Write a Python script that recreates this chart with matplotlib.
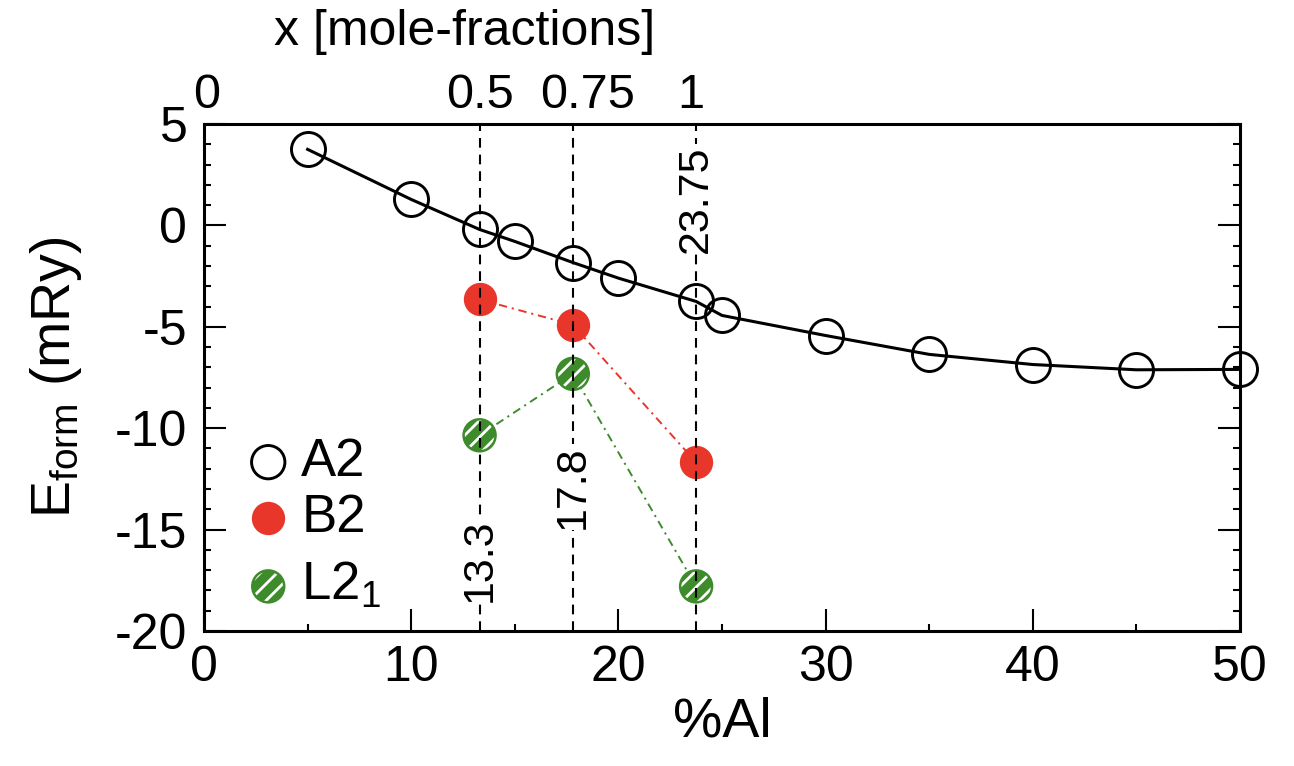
import matplotlib
matplotlib.use("Agg")
import matplotlib.pyplot as plt
from matplotlib.ticker import MultipleLocator

plt.rcParams['font.family'] = ['Liberation Sans', 'DejaVu Sans']
plt.rcParams['mathtext.fontset'] = 'custom'
plt.rcParams['mathtext.rm'] = 'Liberation Sans'
plt.rcParams['mathtext.it'] = 'Liberation Sans:italic'
plt.rcParams['mathtext.bf'] = 'Liberation Sans:bold'
plt.rcParams['axes.unicode_minus'] = False
plt.rcParams['lines.scale_dashes'] = False
plt.rcParams['hatch.linewidth'] = 2.0
plt.rcParams['hatch.color'] = 'white'

# ---- data ----
a2_x = [5, 10, 13.3, 15, 17.8, 20, 23.75, 25, 30, 35, 40, 45, 50]
a2_y = [3.75, 1.28, -0.2, -0.79, -1.83, -2.6, -3.75, -4.44, -5.43, -6.36, -6.86, -7.12, -7.1]
ord_x = [13.3, 17.8, 23.75]
b2_y = [-3.65, -4.9, -11.68]
l21_y = [-10.35, -7.32, -17.8]
vline_x = [13.3, 17.8, 23.75]
vline_labels = ['13.3', '17.8', '23.75']
top_tick_labels = ['0', '0.5', '0.75', '1']

RED = '#e8362a'
GREEN = '#3e8b2c'

fig = plt.figure(figsize=(12.94, 7.66), dpi=100)
ax = fig.add_axes([204/1294, 1-631/766, (1240-204)/1294, (631-124)/766])

ax.set_xlim(0, 50)
ax.set_ylim(-20, 5)

# A2
ax.plot(a2_x, a2_y, color='black', lw=2.2, marker='o', ms=24.5, mfc='none',
        mec='black', mew=2.1, zorder=3, clip_on=False)

# B2
dashdot = (0, (6, 3.5, 1.5, 3.5))
ax.plot(ord_x, b2_y, color=RED, lw=1.4, ls=dashdot, zorder=2)
ax.scatter(ord_x, b2_y, s=24**2, color=RED, linewidths=0, zorder=3)

# L2_1
ax.plot(ord_x, l21_y, color=GREEN, lw=1.4, ls=dashdot, zorder=2)
ax.scatter(ord_x, l21_y, s=23**2, facecolor=GREEN, edgecolor='white',
           hatch='//', linewidths=0, zorder=3)
ax.scatter(ord_x, l21_y, s=23**2, facecolor='none', edgecolor=GREEN,
           linewidths=1.8, zorder=3.5)

# vertical dashed lines
for xv in vline_x:
    ax.axvline(xv, color='black', lw=1.5, ls=(0, (7, 5)), zorder=4)

# rotated labels with white background
label_y = [-16.5, -12.9, 1.3]
for xv, lab, yv in zip(vline_x, vline_labels, label_y):
    ax.text(xv, yv, lab, rotation=90, ha='center', va='center', fontsize=31,
            zorder=5, bbox=dict(facecolor='white', edgecolor='none', pad=1))

# axes style
for sp in ax.spines.values():
    sp.set_linewidth(2.2)
ax.xaxis.set_major_locator(MultipleLocator(10))
ax.xaxis.set_minor_locator(MultipleLocator(5))
ax.yaxis.set_major_locator(MultipleLocator(5))
ax.yaxis.set_minor_locator(MultipleLocator(1))
ax.tick_params(which='both', direction='in', top=True, right=True, width=1.5)
ax.tick_params(which='major', length=16, labelsize=36, pad=10)
ax.tick_params(which='minor', length=5)
ax.tick_params(axis='y', which='major', pad=12)

ax.set_xlabel('%Al', fontsize=40, labelpad=4)
ax.set_ylabel(r'E$_{\mathrm{form}}$ (mRy)', fontsize=40, labelpad=22)

# top axis labels
top_label_pos = [0.15, 13.3, 18.5, 23.5]
tw = ax.twiny()
tw.set_xlim(ax.get_xlim())
tw.set_xticks(top_label_pos)
tw.set_xticklabels(top_tick_labels)
tw.tick_params(axis='x', length=0, labelsize=35, pad=4)
tw.set_xlabel('x [mole-fractions]', fontsize=36, labelpad=6)
tw.xaxis.set_label_coords(0.252, 1.155)
for sp in tw.spines.values():
    sp.set_visible(False)

# legend (manual)
lx, tx = 0.062, 0.094
ax.scatter([lx], [0.333], s=24**2, facecolor='none', edgecolor='black',
           linewidths=2.1, transform=ax.transAxes, zorder=6, clip_on=False)
ax.text(tx, 0.333, 'A2', fontsize=38, va='center', ha='left', transform=ax.transAxes)
ax.scatter([lx], [0.223], s=24**2, color=RED, linewidths=0,
           transform=ax.transAxes, zorder=6)
ax.text(tx, 0.223, 'B2', fontsize=38, va='center', ha='left', transform=ax.transAxes)
ax.scatter([lx], [0.088], s=23**2, facecolor=GREEN, edgecolor='white', hatch='//',
           linewidths=0, transform=ax.transAxes, zorder=6)
ax.scatter([lx], [0.088], s=23**2, facecolor='none', edgecolor=GREEN,
           linewidths=1.8, transform=ax.transAxes, zorder=6.5)
ax.text(tx, 0.062, r'L2$_1$', fontsize=38, va='baseline', ha='left',
        transform=ax.transAxes)

fig.savefig('out.png', dpi=100)
